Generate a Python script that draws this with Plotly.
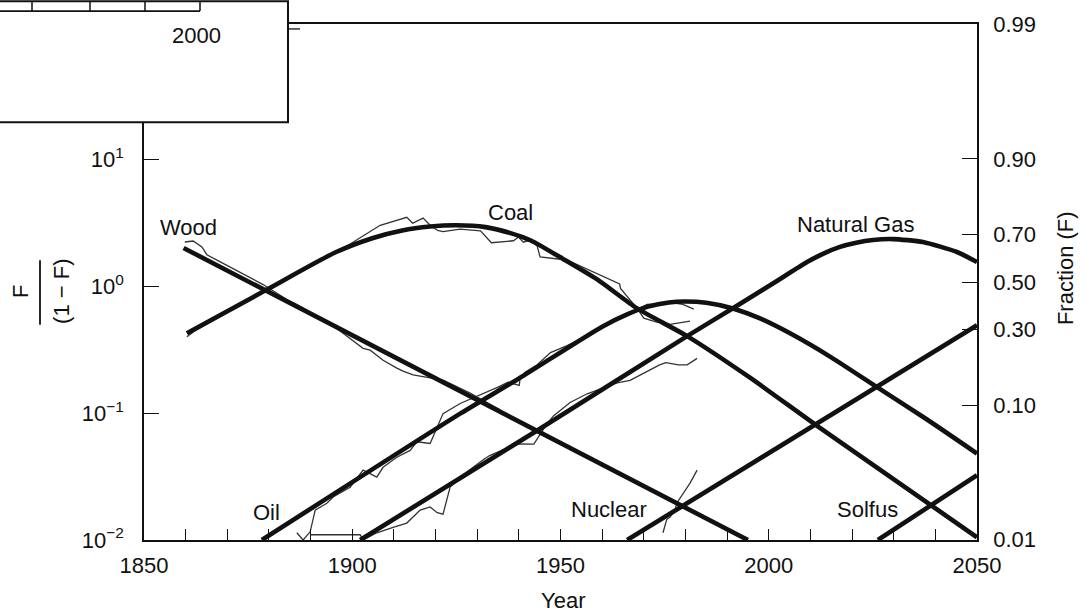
import math
import plotly.graph_objects as go

# ---- model curves: F/(1-F) against year ----
wood_year = [1859.5, 1995.0]
wood_ratio = [2.0, 0.010]

coal_year = [1860.3, 1879.5, 1896.0, 1905.0, 1912.0, 1918.7, 1925.0, 1932.0,
             1938.0, 1943.0, 1950.6, 1958.8, 1968.4, 1980.4, 1995.5, 2011.6, 2050.0]
coal_ratio = [0.426, 0.94, 1.85, 2.40, 2.75, 2.95, 3.02, 2.92,
              2.62, 2.28, 1.64, 1.13, 0.668, 0.404, 0.19, 0.0794, 0.0105]

oil_year = [1878.3, 1925.9, 1940.3, 1960.0, 1966.0, 1971.0, 1976.0, 1980.0,
            1985.0, 1991.4, 1997.9, 2005.0, 2015.0, 2026.0, 2038.0, 2050.0]
oil_ratio = [0.010, 0.099, 0.19, 0.48, 0.60, 0.69, 0.745, 0.758,
             0.74, 0.668, 0.557, 0.427, 0.275, 0.160, 0.089, 0.048]

gas_year = [1901.9, 1944.4, 1980.4, 1991.4, 2001.0, 2009.2, 2013.0, 2017.1,
            2021.0, 2025.0, 2029.8, 2037.0, 2045.2, 2050.0]
gas_ratio = [0.010, 0.073, 0.404, 0.67, 1.05, 1.55, 1.80, 2.04,
             2.20, 2.31, 2.35, 2.23, 1.86, 1.55]

nuclear_year = [1966.0, 2050.0]
nuclear_ratio = [0.010, 0.492]

solfus_year = [2026.2, 2050.0]
solfus_ratio = [0.010, 0.0324]

# ---- historical market shares, F/(1-F) ----
wood_hist_year = [1859.8, 1861.8, 1863.9, 1865.1, 1868.2, 1870.6, 1877.1, 1878.6,
                  1884.3, 1886.7, 1894.7, 1901.1, 1902.6, 1904.3, 1907.4, 1910.7,
                  1912.2, 1914.6, 1916.3, 1918.7, 1921.8, 1928.3, 1935.5]
wood_hist_ratio = [2.23, 2.27, 2.04, 1.77, 1.56, 1.42, 1.09, 1.03,
                   0.785, 0.718, 0.508, 0.355, 0.324, 0.313, 0.261, 0.226,
                   0.214, 0.200, 0.196, 0.189, 0.182, 0.144, 0.106]

coal_hist_year = [1860.3, 1862.0, 1870.0, 1880.0, 1890.0, 1899.5, 1906.7, 1913.1,
                  1914.5, 1917.0, 1918.7, 1920.5, 1921.8, 1925.9, 1928.0, 1930.8,
                  1933.4, 1938.7, 1939.9, 1941.1, 1942.7, 1944.4, 1945.1, 1949.9,
                  1950.6, 1961.3, 1964.2, 1964.4, 1968.4, 1970.0, 1973.1, 1976.3,
                  1981.1]
coal_hist_ratio = [0.40, 0.44, 0.62, 0.95, 1.45, 2.15, 3.02, 3.49,
                   3.13, 3.44, 3.02, 2.75, 2.69, 2.82, 2.78, 2.73,
                   2.20, 2.28, 2.44, 2.22, 2.31, 2.07, 1.70, 1.63,
                   1.66, 1.14, 1.04, 0.96, 0.668, 0.56, 0.52, 0.50,
                   0.53]

oil_hist_year = [1886.7, 1888.2, 1889.9, 1891.1, 1893.9, 1895.4, 1899.5, 1902.6,
                 1905.9, 1907.4, 1910.7, 1913.9, 1915.5, 1918.7, 1921.8, 1924.2,
                 1925.9, 1935.0, 1937.4, 1940.1, 1940.3, 1941.5, 1944.4, 1947.6,
                 1951.6, 1957.2, 1962.0, 1968.4, 1970.8, 1977.0, 1979.4, 1982.0]
oil_hist_ratio = [0.0114, 0.0100, 0.0116, 0.0172, 0.0195, 0.0218, 0.0261, 0.0355,
                  0.0313, 0.0374, 0.0449, 0.0508, 0.0594, 0.0576, 0.0991, 0.110,
                  0.119, 0.16, 0.175, 0.165, 0.190, 0.21, 0.24, 0.30,
                  0.34, 0.42, 0.52, 0.656, 0.72, 0.74, 0.72, 0.66]

gas_hist_year = [1890.0, 1901.9, 1902.6, 1905.9, 1909.8, 1913.1, 1916.3, 1918.7,
                 1920.4, 1921.8, 1923.5, 1925.9, 1931.6, 1933.0, 1939.5, 1943.6,
                 1946.7, 1948.3, 1952.3, 1956.4, 1963.6, 1966.7, 1973.8, 1975.3,
                 1978.3, 1980.4, 1982.8]
gas_hist_ratio = [0.0110, 0.0110, 0.0100, 0.0114, 0.0126, 0.0136, 0.0172, 0.0182,
                  0.0164, 0.0160, 0.0261, 0.0313, 0.0433, 0.0463, 0.0572, 0.0570,
                  0.0818, 0.0950, 0.1212, 0.142, 0.173, 0.181, 0.24, 0.25,
                  0.24, 0.24, 0.27]

nuclear_hist_year = [1974.6, 1975.5, 1976.3, 1977.5, 1977.9, 1979.4, 1980.4, 1981.1, 1982.8]
nuclear_hist_ratio = [0.0114, 0.0145, 0.0152, 0.0172, 0.0195, 0.0234, 0.0261, 0.0281, 0.0355]

# ---- axes ----
x_ticks = [1850, 1900, 1950, 2000, 2050]
ratio_ticks = [0.01, 0.1, 1, 10, 100]
ratio_ticktext = ["10<sup>\u22122</sup>", "10<sup>\u22121</sup>", "10<sup>0</sup>",
                  "10<sup>1</sup>", "10<sup>2</sup>"]
fraction_ticks = [0.01, 0.10, 0.30, 0.50, 0.70, 0.90, 0.99]
fraction_labels = ["0.01", "0.10", "0.30", "0.50", "0.70", "0.90", "0.99"]

INK = "#111111"
FONT = "Liberation Sans, Arial, Helvetica, sans-serif"
FS = 22

fig = go.Figure()

def model(xs, ys, curved=False):
    fig.add_trace(go.Scatter(
        x=xs, y=ys, mode="lines",
        line=dict(color=INK, width=4.6, shape="spline" if curved else "linear",
                  smoothing=0.6),
        hoverinfo="skip", showlegend=False))

def history(xs, ys):
    fig.add_trace(go.Scatter(
        x=xs, y=ys, mode="lines",
        line=dict(color="#333333", width=1.3),
        hoverinfo="skip", showlegend=False))

for xs, ys in [(wood_hist_year, wood_hist_ratio), (coal_hist_year, coal_hist_ratio),
               (oil_hist_year, oil_hist_ratio), (gas_hist_year, gas_hist_ratio),
               (nuclear_hist_year, nuclear_hist_ratio)]:
    history(xs, ys)

model(wood_year, wood_ratio)
model(coal_year, coal_ratio, curved=True)
model(oil_year, oil_ratio, curved=True)
model(gas_year, gas_ratio, curved=True)
model(nuclear_year, nuclear_ratio)
model(solfus_year, solfus_ratio)

# carrier trace for the fraction axis
fig.add_trace(go.Scatter(x=[1850], y=[1], yaxis="y2", mode="lines",
                         hoverinfo="skip", showlegend=False))

fraction_pos = [f / (1 - f) for f in fraction_ticks]

fig.update_layout(
    width=1087, height=615,
    margin=dict(l=144, r=110, t=20, b=75),
    paper_bgcolor="white", plot_bgcolor="white",
    font=dict(family=FONT, size=FS, color=INK),
    xaxis=dict(range=[1850, 2050], tickvals=x_ticks, ticks="inside", ticklen=11,
               tickwidth=1.3, tickcolor=INK, showline=True, linecolor=INK,
               linewidth=1.5, mirror=True, showgrid=False, zeroline=False,
               ticklabelstandoff=5,
               minor=dict(dtick=10, tick0=1850, ticks="inside", ticklen=11,
                          tickwidth=1.3, tickcolor=INK, showgrid=False)),
    yaxis=dict(type="log", range=[-2.0, 2.066], tickvals=ratio_ticks,
               ticktext=ratio_ticktext, ticks="inside", ticklen=15, tickwidth=1.3,
               tickcolor=INK, showline=True, linecolor=INK, linewidth=1.5,
               showgrid=False, zeroline=False, ticklabelstandoff=14),
    yaxis2=dict(type="log", range=[-2.0, 2.0], overlaying="y", side="right",
                tickvals=fraction_pos, ticktext=fraction_labels, ticks="inside",
                ticklen=15, tickwidth=1.3, tickcolor=INK, showline=True,
                linecolor=INK, linewidth=1.5, showgrid=False, zeroline=False,
                ticklabelstandoff=10),
)


def label(text, year, ratio):
    fig.add_annotation(x=year, y=math.log10(ratio), xref="x", yref="y", text=text,
                       showarrow=False, xanchor="center", yanchor="middle",
                       font=dict(size=FS, color=INK))

label("Wood", 1860.6, 2.92)
label("Coal", 1937.9, 3.83)
label("Natural Gas", 2020.9, 3.08)
label("Oil", 1879.5, 0.0166)
label("Nuclear", 1961.6, 0.0173)
label("Solfus", 2023.8, 0.0173)

def px_x(px):
    return (px - 144) / 833.0

def px_y(py):
    return (540 - py) / 520.0

def note(text, px, py, angle=0):
    fig.add_annotation(x=px_x(px), y=px_y(py), xref="paper", yref="paper", text=text,
                       textangle=angle, showarrow=False, xanchor="center",
                       yanchor="middle", font=dict(size=FS, color=INK))

# axis titles
note("Year", 563, 601)
note("Fraction (F)", 1065, 266, -90)
note("F", 21, 290, -90)
note("(1 \u2212 F)", 62, 290, -90)
fig.add_shape(type="line", xref="paper", yref="paper", x0=px_x(40), x1=px_x(40),
              y0=px_y(258), y1=px_y(323), line=dict(color=INK, width=1.8))

# inset panel in the upper-left corner
fig.add_shape(type="rect", xref="paper", yref="paper", x0=px_x(-3), x1=px_x(288),
              y0=px_y(119), y1=px_y(-3), fillcolor="white",
              line=dict(color=INK, width=2), layer="above")
fig.add_shape(type="line", xref="paper", yref="paper", x0=px_x(-3), x1=px_x(200),
              y0=px_y(7), y1=px_y(7), line=dict(color=INK, width=1.8), layer="above")
for vx in [32, 90, 145, 200]:
    fig.add_shape(type="line", xref="paper", yref="paper", x0=px_x(vx), x1=px_x(vx),
                  y0=px_y(7), y1=px_y(-3), line=dict(color=INK, width=1.5),
                  layer="above")
fig.add_shape(type="line", xref="paper", yref="paper", x0=px_x(288), x1=px_x(300),
              y0=px_y(25), y1=px_y(25), line=dict(color=INK, width=1.3),
              layer="above")
note("2000", 196, 32)

fig.write_html("out.html")
